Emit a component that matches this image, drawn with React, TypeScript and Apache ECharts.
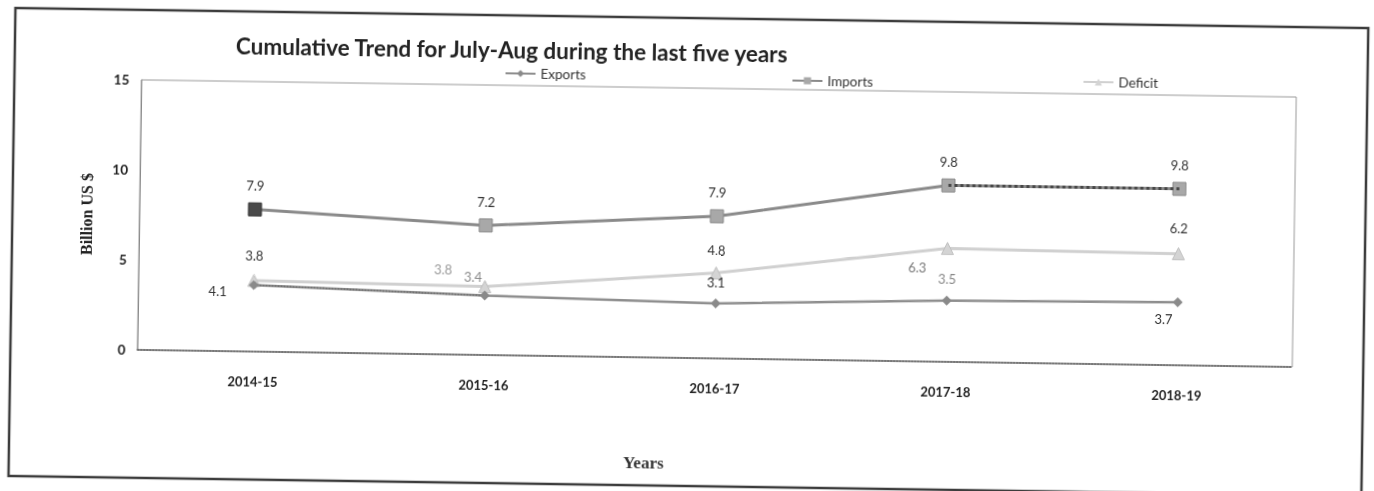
import React, { useEffect, useRef } from "react";
import * as echarts from "echarts";

const years = ["2014-15", "2015-16", "2016-17", "2017-18", "2018-19"];
const exportsValues = [3.7, 3.3, 3.05, 3.4, 3.5];
const exportsLabels = ["4.1", "3.8", "3.1", "3.5", "3.7"];
const importsValues = [7.9, 7.2, 7.9, 9.8, 9.8];
const importsLabels = ["7.9", "7.2", "7.9", "9.8", "9.8"];
const deficitValues = [3.95, 3.8, 4.75, 6.3, 6.2];
const deficitLabels = ["3.8", "3.4", "4.8", "6.3", "6.2"];
const yTicks = [0, 5, 10, 15];

const SANS = "Lato, 'Open Sans', sans-serif";
const SERIF = "'Liberation Serif', 'DejaVu Serif', serif";

export default function App() {
  const ref = useRef<HTMLDivElement>(null);
  useEffect(() => {
    if (!ref.current) return;
    const chart = echarts.init(ref.current, null, { renderer: "svg" });

    const baseLabel = { show: true, fontFamily: SANS, fontSize: 13, color: "#333" };

    const importsData = importsValues.map((v, i) => ({
      value: v,
      itemStyle: i === 0 ? { color: "#4a4a4a", borderColor: "#333" } : { color: "#a8a8a8", borderColor: "#8a8a8a" },
      label: { ...baseLabel, position: "top", distance: 10, formatter: () => importsLabels[i] },
    }));

    const deficitLabelOpts: any[] = [
      { position: "top", distance: 12 },
      { position: "top", distance: 1, offset: [-12, 4], color: "#8a8a8a" },
      { position: "top", distance: 10 },
      { position: "bottom", distance: 6, offset: [-30, 0], color: "#777" },
      { position: "top", distance: 12 },
    ];
    const deficitData = deficitValues.map((v, i) => ({
      value: v,
      label: { ...baseLabel, ...deficitLabelOpts[i], formatter: () => deficitLabels[i] },
    }));

    const exportsLabelOpts: any[] = [
      { position: "left", distance: 22, offset: [0, 7] },
      { position: "top", distance: 14, offset: [-42, 0], color: "#999" },
      { position: "top", distance: 10 },
      { position: "top", distance: 10, color: "#888" },
      { position: "bottom", distance: 5, offset: [-14, 0] },
    ];
    const exportsData = exportsValues.map((v, i) => ({
      value: v,
      label: { ...baseLabel, ...exportsLabelOpts[i], formatter: () => exportsLabels[i] },
    }));

    // darker (scanned) segments: imports last segment, exports first segment
    const importsDark = importsValues.map((v, i) => (i >= 3 ? v : "-"));
    const exportsDark = exportsValues.map((v, i) => (i <= 1 ? v : "-"));

    const legendBase = {
      itemWidth: 30,
      itemHeight: 9,
      itemGap: 1,
      textStyle: { fontFamily: SANS, fontSize: 13.5, color: "#333" },
    };

    chart.setOption({
      animation: false,
      backgroundColor: "#ffffff",
      title: {
        text: "Cumulative Trend for July-Aug during the last five years",
        left: 228,
        top: 36,
        textStyle: { fontFamily: SANS, fontSize: 22.5, fontWeight: "bold", color: "#222" },
      },
      legend: [
        { ...legendBase, data: ["Exports"], left: 497, top: 64 },
        { ...legendBase, data: ["Imports"], left: 784, top: 67 },
        { ...legendBase, data: ["Deficit"], left: 1075, top: 64 },
      ],
      grid: {
        left: 139,
        top: 88,
        width: 1155,
        height: 270,
        show: true,
        borderColor: "#9a9a9a",
        borderWidth: 1,
        backgroundColor: "transparent",
      },
      xAxis: {
        type: "category",
        data: years,
        boundaryGap: true,
        name: "Years",
        nameLocation: "middle",
        nameGap: 97,
        nameTextStyle: {
          fontFamily: SERIF,
          fontSize: 17,
          fontWeight: "bold",
          color: "#333",
          padding: [0, 140, 0, 0],
        },
        axisLine: { show: true, lineStyle: { color: "#555", width: 1.5, type: "dotted" } },
        axisTick: { show: false },
        axisLabel: { fontFamily: SANS, fontSize: 13, fontWeight: "bold", color: "#222", margin: 23 },
      },
      yAxis: {
        type: "value",
        min: yTicks[0],
        max: yTicks[yTicks.length - 1],
        interval: yTicks[1] - yTicks[0],
        name: "Billion US $",
        nameLocation: "middle",
        nameGap: 45,
        nameRotate: 90,
        nameTextStyle: { fontFamily: SERIF, fontSize: 16, fontWeight: "bold", color: "#222" },
        axisLine: { show: true, lineStyle: { color: "#8a8a8a", width: 1 } },
        axisTick: { show: false },
        splitLine: { show: false },
        axisLabel: { fontFamily: SANS, fontSize: 13.5, fontWeight: "bold", color: "#222", margin: 12 },
      },
      series: [
        {
          name: "Exports",
          type: "line",
          data: exportsData,
          symbol: "diamond",
          symbolSize: 10,
          color: "#8a8a8a",
          itemStyle: { color: "#8a8a8a" },
          lineStyle: { width: 2.5, color: "#8e8e8e" },
          z: 3,
        },
        {
          name: "Imports",
          type: "line",
          data: importsData,
          symbol: "rect",
          symbolSize: 13,
          color: "#555",
          itemStyle: { color: "#a8a8a8" },
          lineStyle: { width: 3, color: "#8a8a8a" },
          z: 4,
        },
        {
          name: "Deficit",
          type: "line",
          data: deficitData,
          symbol: "triangle",
          symbolSize: 12,
          color: "#cfcfcf",
          itemStyle: { color: "#d4d4d4", borderColor: "#c0c0c0" },
          lineStyle: { width: 3, color: "#d0d0d0" },
          z: 2,
        },
        {
          name: "ImportsDark",
          type: "line",
          data: importsDark,
          symbol: "none",
          silent: true,
          lineStyle: { width: 3, color: "#474747", type: "dotted" },
          z: 5,
        },
        {
          name: "ExportsDark",
          type: "line",
          data: exportsDark,
          symbol: "none",
          silent: true,
          lineStyle: { width: 1.5, color: "#6a6a6a", type: "dotted" },
          z: 3,
        },
      ],
      graphic: [
        {
          type: "rect",
          shape: { x: 12, y: 18, width: 1353, height: 468 },
          style: { fill: "none", stroke: "#3c3c3c", lineWidth: 2.5 },
          silent: true,
        },
      ],
    });
    return () => chart.dispose();
  }, []);

  return (
    <div
      ref={ref}
      style={{
        position: "fixed",
        left: 0,
        top: 0,
        width: 1374,
        height: 491,
        transform: "rotate(0.85deg)",
        transformOrigin: "687px 245px",
      }}
    />
  );
}
